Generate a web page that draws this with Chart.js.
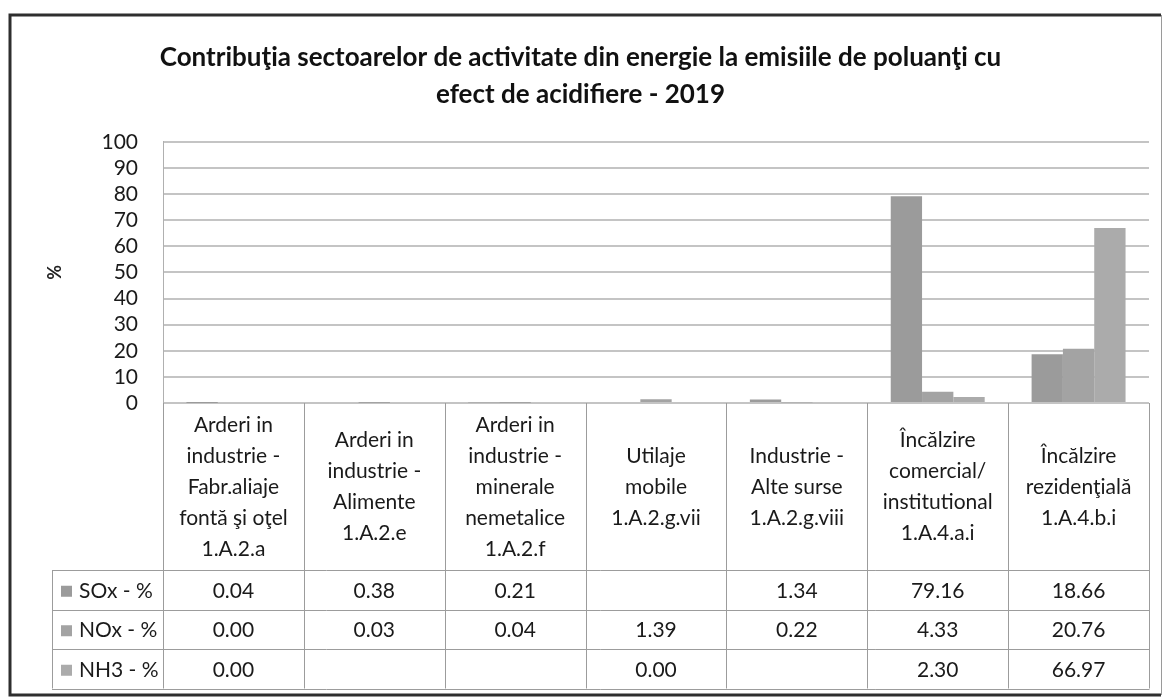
<!DOCTYPE html>
<html><head><meta charset="utf-8">
<script src="https://cdn.jsdelivr.net/npm/chart.js@4.4.1/dist/chart.umd.min.js"></script>
<style>html,body{margin:0;padding:0;background:#fff;} #wrap{position:relative;width:1164px;height:700px;}</style>
</head><body><div id="wrap"><canvas id="c" width="1164" height="700"></canvas></div>
<script>
const titleLines = ["Contribuţia sectoarelor de activitate din energie la emisiile de poluanţi cu", "efect de acidifiere - 2019"];
const categories = [
  ["Arderi in", "industrie -", "Fabr.aliaje", "fontă şi oţel", "1.A.2.a"],
  ["Arderi in", "industrie -", "Alimente", "1.A.2.e"],
  ["Arderi in", "industrie -", "minerale", "nemetalice", "1.A.2.f"],
  ["Utilaje", "mobile", "1.A.2.g.vii"],
  ["Industrie -", "Alte surse", "1.A.2.g.viii"],
  ["Încălzire", "comercial/", "institutional", "1.A.4.a.i"],
  ["Încălzire", "rezidenţială", "1.A.4.b.i"]
];
const seriesNames = ["SOx - %", "NOx - %", "NH3 - %"];
const soxValues = [0.04, 0.38, 0.21, null, 1.34, 79.16, 18.66];
const noxValues = [0.00, 0.03, 0.04, 1.39, 0.22, 4.33, 20.76];
const nh3Values = [0.00, null, null, 0.00, null, 2.30, 66.97];
const yMin = 0, yMax = 100, yStep = 10;
const yTitle = "%";

const colors = ["#9b9b9b", "#a3a3a3", "#ababab"];
const FONT = "Lato, 'Open Sans', sans-serif";
const TXT = "#1a1a1a";

const framePlugin = {
  id: 'frame',
  beforeDraw(chart) {
    const ctx = chart.ctx;
    ctx.save();
    ctx.fillStyle = '#fff';
    ctx.fillRect(0, 0, chart.width, chart.height);
    ctx.restore();
  },
  afterDraw(chart) {
    const ctx = chart.ctx;
    ctx.save();
    ctx.strokeStyle = '#2e2e2e';
    ctx.lineWidth = 3;
    ctx.beginPath();
    ctx.moveTo(1161, 15); ctx.lineTo(10, 15); ctx.lineTo(10, 695); ctx.lineTo(1161, 695);
    ctx.stroke();
    ctx.strokeStyle = '#9a9a9a';
    ctx.lineWidth = 1;
    ctx.beginPath(); ctx.moveTo(1161.5, 15); ctx.lineTo(1161.5, 695); ctx.stroke();
    ctx.restore();
  }
};

const tablePlugin = {
  id: 'dataTable',
  afterDraw(chart) {
    const ctx = chart.ctx;
    const x = chart.scales.x;
    const area = chart.chartArea;
    const n = categories.length;
    const top = area.bottom;
    const rowTop = top + 167;
    const rowH = 39.5;
    const rows = [soxValues, noxValues, nh3Values];
    const legendLeft = 52;
    const tableBottom = rowTop + rowH * rows.length;
    ctx.save();
    ctx.strokeStyle = '#9c9c9c';
    ctx.lineWidth = 1;
    for (let i = 0; i <= n; i++) {
      const px = Math.round(x.getPixelForValue(i - 0.5)) + 0.5;
      ctx.beginPath(); ctx.moveTo(px, top); ctx.lineTo(px, tableBottom); ctx.stroke();
    }
    const right = Math.round(x.getPixelForValue(n - 0.5)) + 0.5;
    for (let r = 0; r <= rows.length; r++) {
      const py = Math.round(rowTop + r * rowH) + 0.5;
      ctx.beginPath(); ctx.moveTo(legendLeft, py); ctx.lineTo(right, py); ctx.stroke();
    }
    ctx.beginPath(); ctx.moveTo(legendLeft + 0.5, rowTop); ctx.lineTo(legendLeft + 0.5, tableBottom); ctx.stroke();
    ctx.font = "21px " + FONT;
    ctx.textBaseline = 'middle';
    for (let r = 0; r < rows.length; r++) {
      const cy = rowTop + r * rowH + rowH / 2 + 1;
      ctx.fillStyle = colors[r];
      ctx.fillRect(legendLeft + 9, cy - 5, 11, 11);
      ctx.fillStyle = TXT;
      ctx.textAlign = 'left';
      ctx.fillText(seriesNames[r], legendLeft + 27, cy);
      ctx.textAlign = 'center';
      rows[r].forEach((v, i) => {
        if (v === null || v === undefined) return;
        ctx.fillText(v.toFixed(2), x.getPixelForValue(i), cy);
      });
    }
    ctx.restore();
  }
};

const ctx = document.getElementById('c').getContext('2d');
new Chart(ctx, {
  type: 'bar',
  data: {
    labels: categories,
    datasets: [
      { label: seriesNames[0], data: soxValues, backgroundColor: colors[0] },
      { label: seriesNames[1], data: noxValues, backgroundColor: colors[1] },
      { label: seriesNames[2], data: nh3Values, backgroundColor: colors[2] }
    ]
  },
  options: {
    responsive: false,
    animation: false,
    devicePixelRatio: 1,
    layout: { padding: { left: 12, right: 15, top: 15, bottom: 137 } },
    datasets: { bar: { categoryPercentage: 0.667, barPercentage: 1.0, borderWidth: 0 } },
    plugins: {
      legend: { display: false },
      tooltip: { enabled: false },
      title: {
        display: true,
        text: titleLines,
        color: '#111',
        font: { family: FONT, size: 26, weight: 'bold', lineHeight: 1.42 },
        padding: { top: 24, bottom: 29 }
      }
    },
    scales: {
      x: {
        grid: { display: false, drawTicks: false },
        border: { display: false },
        ticks: {
          color: TXT,
          font: { family: FONT, size: 21, lineHeight: 1.476 },
          padding: 22,
          maxRotation: 0, minRotation: 0, autoSkip: false,
          crossAlign: 'center'
        },
        afterFit(s) { s.height = 160; }
      },
      y: {
        min: yMin, max: yMax,
        ticks: {
          stepSize: yStep,
          autoSkip: false,
          color: TXT,
          font: { family: FONT, size: 21 },
          padding: 25
        },
        grid: { color: '#c4c4c4', lineWidth: 2, drawTicks: false },
        border: { display: true, color: '#b0b0b0', width: 1 },
        title: {
          display: true,
          text: yTitle,
          color: '#222',
          font: { family: FONT, size: 18, weight: 'bold', lineHeight: 1.2 },
          padding: { top: 32, bottom: 37 }
        },
        afterFit(s) { s.width = 151; }
      }
    }
  },
  plugins: [framePlugin, tablePlugin]
});
</script>
</body></html>
